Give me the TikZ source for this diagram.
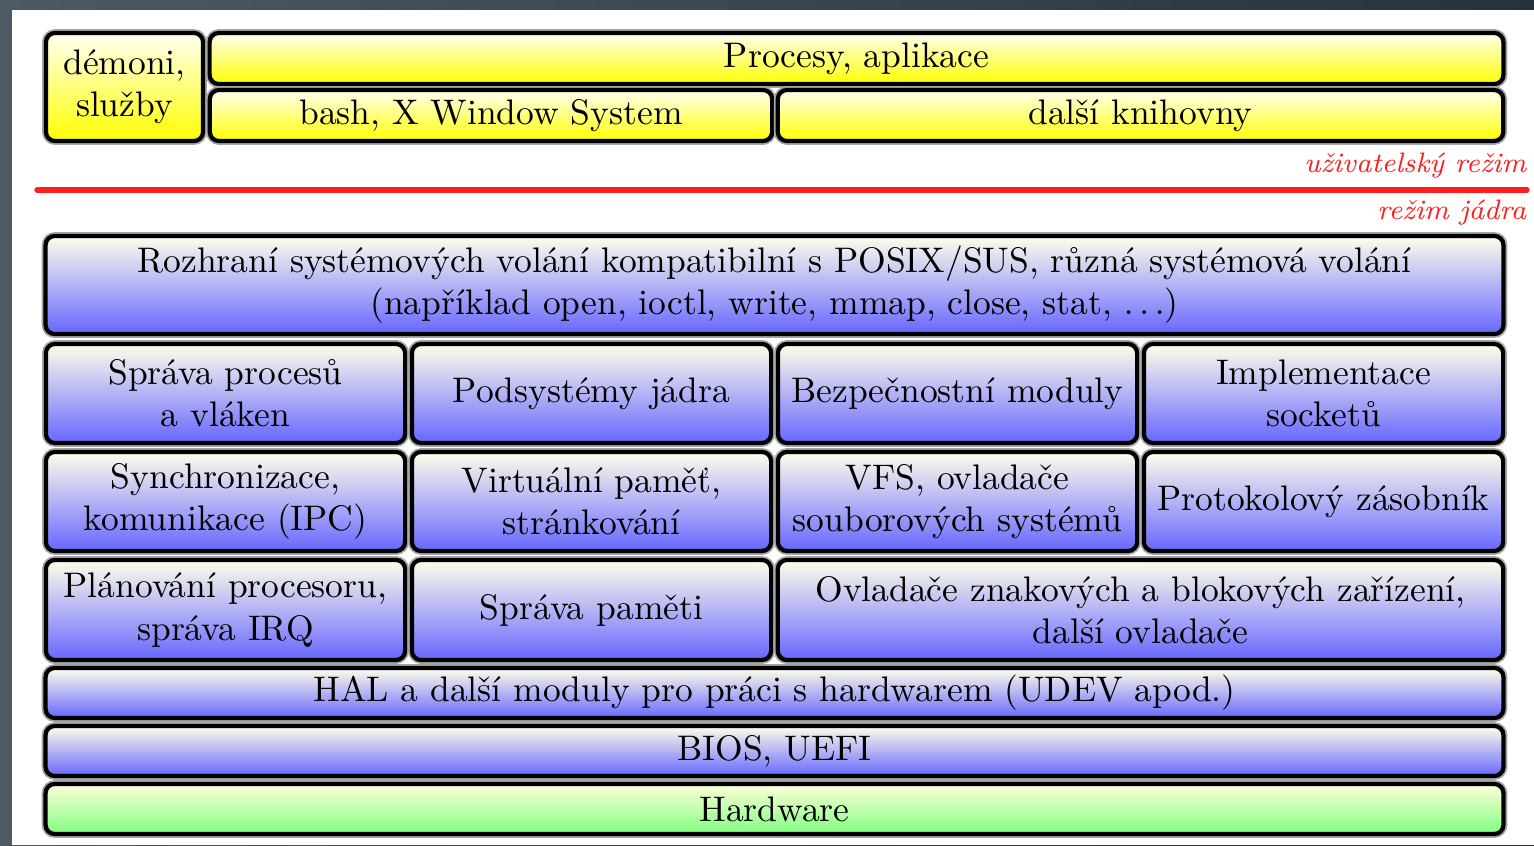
\documentclass[tikz,border=0pt]{standalone}
\usepackage{fontspec}
\usetikzlibrary{shadings}
\definecolor{frameL}{RGB}{75,90,100}
\definecolor{frameR}{RGB}{40,50,60}
\definecolor{modered}{RGB}{255,30,30}
\tikzset{
  layer/.style={draw=black, line width=1.2pt, rounded corners=2.6pt,
    inner sep=0pt, outer sep=0pt, align=center, font=\fontsize{10.1}{12}\selectfont,
    preaction={draw=black!35, line width=2.2pt}},
  kernel/.style={layer, top color=yellow!8, bottom color=blue!60},
  user/.style={layer, top color=yellow!5, bottom color=yellow},
  hw/.style={layer, top color=yellow!15, bottom color=green!50},
  modelabel/.style={text=modered, font=\fontsize{8}{10}\selectfont\itshape, inner sep=0pt, anchor=east},
  box/.style 2 args={minimum width=#1cm, minimum height=#2cm}
}
\begin{document}
\begin{tikzpicture}[x=0.01cm, y=-0.01cm]
  % frame and page
  \shade[left color=frameL, right color=frameR] (0,0) rectangle (1534,845);
  \fill[white] (12,10) rectangle (1534,845);
  \useasboundingbox (0,0) rectangle (1534,845);

  % user space
  \node[user, box={1.57}{1.08}] (demoni) at (124.5,87) {démoni,\\služby};
  \node[user, box={12.93}{0.51}] (procesy) at (856.5,58.5) {Procesy, aplikace};
  \node[user, box={5.62}{0.51}] (bash) at (491,115.5) {bash, X Window System};
  \node[user, box={7.25}{0.51}] (knihovny) at (1140.5,115.5) {další knihovny};

  % boundary between user and kernel mode
  \coordinate (sepL) at (37,190);
  \coordinate (sepR) at (1527,190);
  \draw[modered, line width=1.5pt, line cap=round] (sepL) -- (sepR);
  \node[modelabel] (umode) at (1527,166) {uživatelský režim};
  \node[modelabel] (kmode) at (1527,213) {režim jádra};

  % kernel
  \node[kernel, box={14.57}{0.98}] (syscalls) at (774.5,285)
    {Rozhraní systémových volání kompatibilní s POSIX/SUS, různá systémová volání\\(například open, ioctl, write, mmap, close, stat, $\ldots$)};

  \node[kernel, box={3.59}{0.99}] (procs) at (225.5,393.5) {Správa procesů\\a vláken};
  \node[kernel, box={3.59}{0.99}] (subsys) at (591.5,393.5) {Podsystémy jádra};
  \node[kernel, box={3.59}{0.99}] (secmod) at (957.5,393.5) {Bezpečnostní moduly};
  \node[kernel, box={3.59}{0.99}] (sockets) at (1323.5,393.5) {Implementace\\socketů};

  \node[kernel, box={3.59}{0.99}] (ipc) at (225.5,501.5) {Synchronizace,\\komunikace (IPC)};
  \node[kernel, box={3.59}{0.99}] (vm) at (591.5,501.5) {Virtuální paměť,\\stránkování};
  \node[kernel, box={3.59}{0.99}] (vfs) at (957.5,501.5) {VFS, ovladače\\souborových systémů};
  \node[kernel, box={3.59}{0.99}] (netstack) at (1323.5,501.5) {Protokolový zásobník};

  \node[kernel, box={3.59}{1.00}] (sched) at (225.5,610) {Plánování procesoru,\\správa IRQ};
  \node[kernel, box={3.59}{1.00}] (mem) at (591.5,610) {Správa paměti};
  \node[kernel, box={7.25}{1.00}] (drivers) at (1140.5,610) {Ovladače znakových a blokových zařízení,\\další ovladače};

  \node[kernel, box={14.57}{0.50}] (hal) at (774.5,693) {HAL a další moduly pro práci s hardwarem (UDEV apod.)};
  \node[kernel, box={14.57}{0.50}] (bios) at (774.5,751) {BIOS, UEFI};
  \node[hw, box={14.57}{0.50}] (hardware) at (774.5,809) {Hardware};
\end{tikzpicture}
\end{document}
